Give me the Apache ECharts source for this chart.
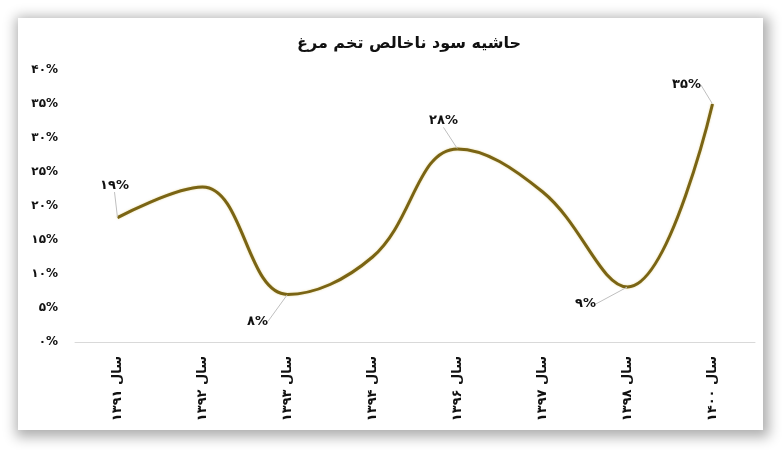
<!DOCTYPE html>
<html><head><meta charset="utf-8">
<script src="https://cdn.jsdelivr.net/npm/echarts@6/dist/echarts.min.js"></script>
<style>
html,body{margin:0;padding:0;background:#fff;width:782px;height:450px;overflow:hidden;}
#frame{position:absolute;left:18px;top:18px;width:745px;height:412px;background:#fff;box-shadow:2px 3px 12px 4px rgba(0,0,0,0.32);}
#c{position:absolute;left:0;top:0;width:782px;height:450px;}
</style></head>
<body><div id="frame"></div><div id="c"></div>
<script>
const titleText = 'حاشیه سود ناخالص تخم مرغ';
const categories = ['سال ۱۳۹۱','سال ۱۳۹۲','سال ۱۳۹۳','سال ۱۳۹۴','سال ۱۳۹۶','سال ۱۳۹۷','سال ۱۳۹۸','سال ۱۴۰۰'];
const margins = [0.183, 0.228, 0.070, 0.125, 0.284, 0.221, 0.081, 0.350];
const pointLabels = ['۱۹%', '', '۸%', '', '۲۸%', '', '۹%', '۳۵%'];
const labelOffsets = [[-3,-34],null,[-30,25],null,[-14,-30],null,[-42,15],[-26,-21]];

const fa = s => String(s).replace(/[0-9]/g, d => '۰۱۲۳۴۵۶۷۸۹'[d]);
const chart = echarts.init(document.getElementById('c'));
chart.setOption({
  animation:false,
  title:{text:titleText,left:292,top:31,textStyle:{fontFamily:'DejaVu Sans',fontSize:16,fontWeight:'bold',color:'#111'}},
  grid:{left:75,right:27,top:70,bottom:108},
  xAxis:{type:'category',data:categories,boundaryGap:true,
    axisLine:{lineStyle:{color:'#d9d9d9',width:1}},axisTick:{show:false},
    axisLabel:{rotate:90,margin:14,fontFamily:'DejaVu Sans',fontSize:13,fontWeight:'bold',color:'#111'}},
  yAxis:{type:'value',min:0,max:0.4,interval:0.05,
    axisLine:{show:false},axisTick:{show:false},splitLine:{show:false},
    axisLabel:{margin:17,fontFamily:'DejaVu Sans',fontSize:12,fontWeight:'bold',color:'#111',
      formatter:v=>fa(Math.round(v*100))+'%'}},
  series:[{type:'line',data:margins,smooth:0.4,symbol:'circle',symbolSize:1,showSymbol:true,
    itemStyle:{color:'rgba(0,0,0,0)'},
    lineStyle:{color:'#7A6414',width:3,shadowColor:'rgba(200,170,40,0.5)',shadowBlur:2},
    label:{show:true,position:'top',distance:0,fontFamily:'DejaVu Sans',fontSize:13,fontWeight:'bold',color:'#111',
      formatter:p=>pointLabels[p.dataIndex]},
    labelLine:{show:true,lineStyle:{color:'#bfbfbf',width:1}},
    labelLayout:p=>{const o=labelOffsets[p.dataIndex]; if(!o) return {}; return {dx:o[0],dy:o[1]+9};}
  }]
});
</script></body></html>
